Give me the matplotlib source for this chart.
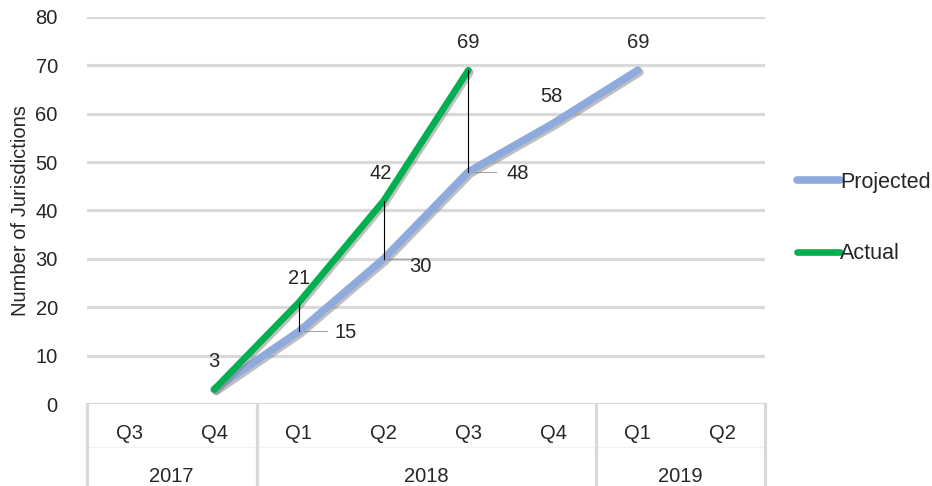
import matplotlib
matplotlib.use("Agg")
import matplotlib.pyplot as plt
import matplotlib.patheffects as pe
from matplotlib.transforms import blended_transform_factory

plt.rcParams['font.family'] = ['Liberation Sans', 'DejaVu Sans']

quarters = ["Q3", "Q4", "Q1", "Q2", "Q3", "Q4", "Q1", "Q2"]
years = ["2017", "2018", "2019"]
year_spans = [(0, 1), (2, 5), (6, 7)]
projected_x = [1, 2, 3, 4, 5, 6]
projected = [3, 15, 30, 48, 58, 69]
actual_x = [1, 2, 3, 4]
actual = [3, 21, 42, 69]

TXT = '#262626'
FS = 14.5

fig = plt.figure(figsize=(9.32, 4.86), dpi=100)
ax = fig.add_axes([87/932, 1-404/486, (765-87)/932, (404-17)/486])
ax.set_xlim(-0.5, 7.5)
ax.set_ylim(0, 80)
ax.set_yticks(range(0, 81, 10))
ax.tick_params(axis='y', length=0, labelsize=FS, colors=TXT, pad=21)
ax.set_xticks([])
for s in ax.spines.values():
    s.set_visible(False)
for v in range(0, 81, 10):
    ax.axhline(v, color='#d9d9d9', lw=2.3, zorder=0)
ax.set_ylabel("Number of Jurisdictions", fontsize=FS, color=TXT, labelpad=4)

shadow = [pe.SimpleLineShadow(offset=(1.5, -1.5), shadow_color='#808080', alpha=0.5), pe.Normal()]
ax.plot(projected_x, projected, color='#8faadc', lw=5.5, solid_capstyle='round',
        solid_joinstyle='round', zorder=3, path_effects=shadow, label='Projected')
ax.plot(actual_x, actual, color='#00b050', lw=4.8, solid_capstyle='round',
        solid_joinstyle='round', zorder=4, path_effects=shadow, label='Actual')

# leader lines
for x, a, p in zip(actual_x[1:], actual[1:], projected[1:4]):
    ax.plot([x, x], [p, a], color='black', lw=0.8, zorder=5)
    ax.plot([x, x + 0.33], [p, p], color='#a6a6a6', lw=0.8, zorder=2)

lab_kw = dict(fontsize=FS, color=TXT, ha='center', va='center', zorder=6)
# actual labels
ax.text(1, 8.7, "3", **lab_kw)
ax.text(2, 26.0, "21", **lab_kw)
ax.text(2.97, 47.75, "42", **lab_kw)
ax.text(4, 74.8, "69", **lab_kw)
# projected labels
ax.text(2.556, 14.7, "15", **lab_kw)
ax.text(3.43, 28.5, "30", **lab_kw)
ax.text(4.586, 47.75, "48", **lab_kw)
ax.text(4.975, 63.5, "58", **lab_kw)
ax.text(6, 74.8, "69", **lab_kw)

# category axis table
tr = blended_transform_factory(ax.transData, fig.transFigure)
for xb in [-0.5, 1.5, 5.5, 7.5]:
    ax.plot([xb, xb], [1-404/486, 0], color='#d9d9d9', lw=2.3, transform=tr, clip_on=False)
ax.plot([-0.5, 7.5], [1-447/486, 1-447/486], color='#f2f2f2', lw=1.0, transform=tr, clip_on=False, zorder=0)
for i, q in enumerate(quarters):
    t = fig.text(0, 0, q, transform=tr, fontsize=FS, color=TXT, ha='center', va='center')
    t.set_position((i, 1-433/486))
for (a, b), y in zip(year_spans, years):
    t = fig.text(0, 0, y, transform=tr, fontsize=FS, color=TXT, ha='center', va='center')
    t.set_position(((a+b)/2, 1-476/486))

# legend
leg = fig.legend(loc='center left', bbox_to_anchor=(778/932, 1-218/486), frameon=False,
                 fontsize=15.5, handlelength=2.0, handletextpad=0.0, labelspacing=2.35,
                 labelcolor=TXT)
for h in leg.legend_handles:
    h.set_path_effects([])

fig.savefig("out.png", dpi=100)
